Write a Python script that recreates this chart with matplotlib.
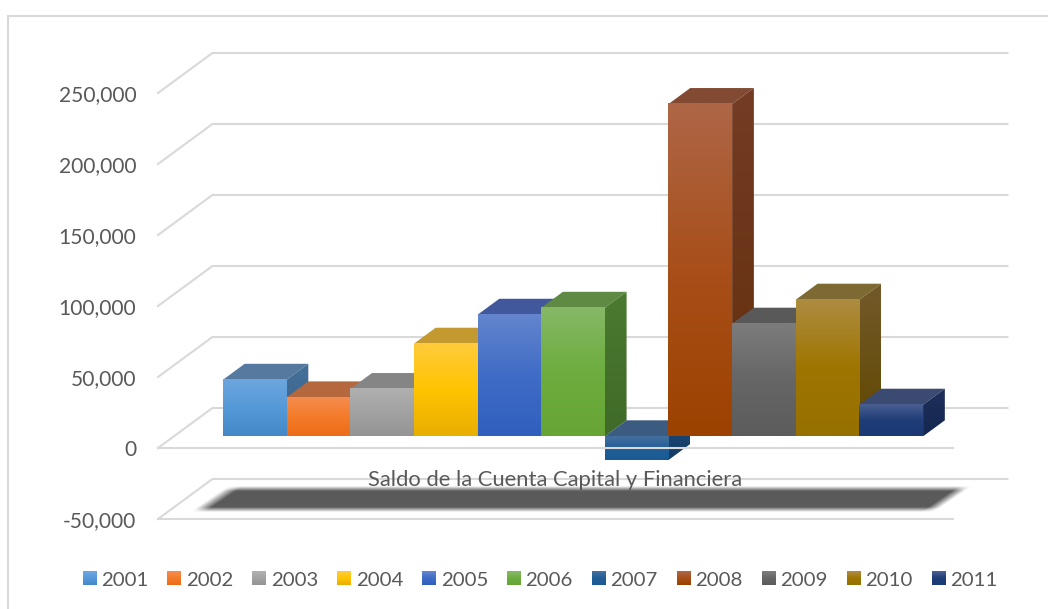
import numpy as np
import matplotlib
matplotlib.use("Agg")
import matplotlib.pyplot as plt
from matplotlib.colors import to_rgb
from matplotlib.lines import Line2D
from matplotlib.legend_handler import HandlerBase
from matplotlib.patches import Polygon, Rectangle

# ---- data ----
years = ["2001", "2002", "2003", "2004", "2005", "2006", "2007", "2008", "2009", "2010", "2011"]
saldo = [39800, 27400, 33300, 65200, 85600, 90500, -16700, 234000, 79300, 96200, 22250]
y_ticks = [-50000, 0, 50000, 100000, 150000, 200000, 250000]
y_labels = ["-50,000", "0", "50,000", "100,000", "150,000", "200,000", "250,000"]
title = "Saldo de la Cuenta Capital y Financiera"

# ---- colours: front gradient (top, middle, bottom), roof, side (top, bottom) ----
front_top = ["#6DA6DD", "#F58C4F", "#B0B0B0", "#FFCB3C", "#6485CE", "#86B866", "#45709F", "#AE6646", "#7C7C7C", "#AD8C42", "#4A5F90"]
front_mid = ["#5599D8", "#F47B2A", "#A2A2A2", "#FFC400", "#3F6CC6", "#6DAD3F", "#225E96", "#A84F1A", "#666666", "#9F7500", "#1F3D78"]
front_bot = ["#4488C8", "#EC6C18", "#949494", "#E8AE00", "#2F60BE", "#66A535", "#1A5A94", "#9C4200", "#5C5C5C", "#967000", "#1B3A74"]
roof = ["#55799F", "#B5683D", "#858585", "#C49A30", "#41599C", "#5E8A44", "#3B5B80", "#824A33", "#595959", "#7D6A33", "#3A4A70"]
side_top = ["#44709A", "#A85A2E", "#757575", "#B08A20", "#2F4C8C", "#4C7A30", "#1E4A78", "#743C24", "#4E4E4E", "#73592A", "#1E2F5C"]
side_bot = ["#3A6388", "#9A4C1C", "#6A6A6A", "#A07A00", "#284484", "#3F6A28", "#123A66", "#632E0C", "#444444", "#604800", "#14284E"]
grid_color = "#D9D9D9"
text_color = "#595959"

W, H = 1048, 609
plt.rcParams["font.family"] = ["Lato", "DejaVu Sans"]
fig = plt.figure(figsize=(W / 100, H / 100), dpi=100, facecolor="white")


def px_box(left, right, top, bottom):
    return [left / W, 1 - bottom / H, (right - left) / W, (bottom - top) / H]


# The axes is the front plane of the 3-D floor; depth is a shear on top of it.
ax = fig.add_axes(px_box(158, 953, 93, 519))
ax.set_facecolor("none")
ax.set_xlim(-0.77, 11.72)
ax.set_ylim(-50000, 250000)
ax.autoscale(False)
for s in ax.spines.values():
    s.set_visible(False)
ax.set_xticks([])
ax.set_yticks(y_ticks, y_labels)
ax.tick_params(axis="y", length=0, pad=15.7, labelsize=15.1, labelcolor=text_color)

DX = 0.342      # x shift per depth unit
DY = 11270.0    # y shift per depth unit
BAR_D = 0.73    # depth of bar front faces
BACK_D = 2.5    # depth of back wall
xmin, xmax = ax.get_xlim()


def shear(x, y, d):
    return x + d * DX, y + d * DY


# ---- chart frame (top and left only) ----
for xs, ys in (([8 / W, 1], [1 - 16 / H, 1 - 16 / H]), ([8 / W, 8 / W], [1 - 16 / H, 0])):
    fig.add_artist(Line2D(xs, ys, color=grid_color, lw=1.5))

# ---- walls and floor ----
for v in y_ticks:
    x0, y0 = shear(xmin, v, 0)
    x1, y1 = shear(xmin, v, BACK_D)
    x2, y2 = shear(xmax, v, BACK_D)
    ax.plot([x0, x1, x2], [y0, y1, y2], color=grid_color, lw=1.5, clip_on=False, zorder=1,
            solid_joinstyle="miter")
ax.plot([xmin, xmax], [-50000, -50000], color=grid_color, lw=1.5, clip_on=False, zorder=1)

# ---- title shadow: soft-edged parallelogram painted under the axes ----
yy, xx = np.mgrid[470:530, 180:990]
uu = xx + (yy - 488) * 1.47
a_v = np.clip((yy - 485.5) / 5, 0, 1) * np.clip((511.5 - yy) / 5, 0, 1)
a_h = np.clip((uu - 224) / 15, 0, 1) * np.clip((968 - uu) / 13, 0, 1)
alpha = a_v * a_h
rgba = np.zeros(alpha.shape + (4,))
rgba[..., :3] = to_rgb("#5A5A5A")
rgba[..., 3] = alpha
fig.figimage(rgba, xo=180, yo=H - 530, origin="upper", zorder=-1)

ax.text(0.5, 1 - (480 - 93) / (519 - 93), title, transform=ax.transAxes, ha="center", va="center",
        fontsize=15.8, color=text_color, zorder=1.6)


# ---- bars ----
def gradient(stops, extent, zorder, clip=None, position=(0, 0.5, 1)):
    n = 64
    t = np.linspace(0, 1, n)
    c = np.array([to_rgb(s) for s in stops])
    arr = np.stack([np.interp(t, position, c[:, j]) for j in range(3)], axis=1)[:, None, :]
    im = ax.imshow(arr, extent=extent, aspect="auto", origin="upper", interpolation="bilinear",
                   zorder=zorder)
    im.set_clip_box(fig.bbox)
    if clip is not None:
        poly = Polygon(clip, closed=True, transform=ax.transData)
        im.set_clip_path(poly)
    else:
        im.set_clip_path(None)
    return im


for i, v in enumerate(saldo):
    z = 2 + i * 0.1
    x0, y0 = shear(i, 0, BAR_D)
    x1, y1 = shear(i + 1, v, BAR_D)
    hi, lo = max(y0, y1), min(y0, y1)
    xb, yb = DX, DY
    # roof
    ax.add_patch(Polygon([(x0, hi), (x1, hi), (x1 + xb, hi + yb), (x0 + xb, hi + yb)], closed=True,
                         facecolor=roof[i], edgecolor="none", clip_on=False, zorder=z))
    # side
    side = [(x1, hi), (x1 + xb, hi + yb), (x1 + xb, lo + yb), (x1, lo)]
    gradient([side_top[i], side_bot[i]], (x1, x1 + xb, lo, hi + yb), z, clip=side, position=(0, 1))
    # front
    gradient([front_top[i], front_mid[i], front_bot[i]], (x0, x1, lo, hi), z + 0.01)

# front edge of the zero floor runs over the negative bar
ax.plot([xmin, xmax], [0, 0], color=grid_color, lw=1.5, clip_on=False, zorder=4)
ax.set_xlim(xmin, xmax)
ax.set_ylim(-50000, 250000)


# ---- legend ----
class GradientHandler(HandlerBase):
    def create_artists(self, legend, orig, xd, yd, width, height, fontsize, trans):
        i = int(orig.get_gid())
        n = 14
        size = 10.1  # points
        arts = []
        stops = np.array([to_rgb(front_top[i]), to_rgb(front_mid[i]), to_rgb(front_bot[i])])
        for k in range(n):
            t = k / (n - 1)
            col = [np.interp(t, (0, 0.5, 1), stops[:, j]) for j in range(3)]
            arts.append(Rectangle((-xd, -yd + height / 2 + size / 2 - (k + 1) * size / n),
                                  size, size / n + 0.2, facecolor=col, edgecolor="none",
                                  transform=trans))
        return arts


handles = [Rectangle((0, 0), 1, 1, gid=str(i)) for i in range(len(years))]
fig.legend(handles, years, handler_map={Rectangle: GradientHandler()}, ncol=len(years), frameon=False,
           loc="center", bbox_to_anchor=(540 / W, 1 - 580 / H), fontsize=14.7, labelcolor=text_color,
           handlelength=0.69, handleheight=0.69, handletextpad=0.22, columnspacing=0.93,
           borderpad=0, borderaxespad=0)

fig.savefig("out.png", dpi=100, facecolor="white")
